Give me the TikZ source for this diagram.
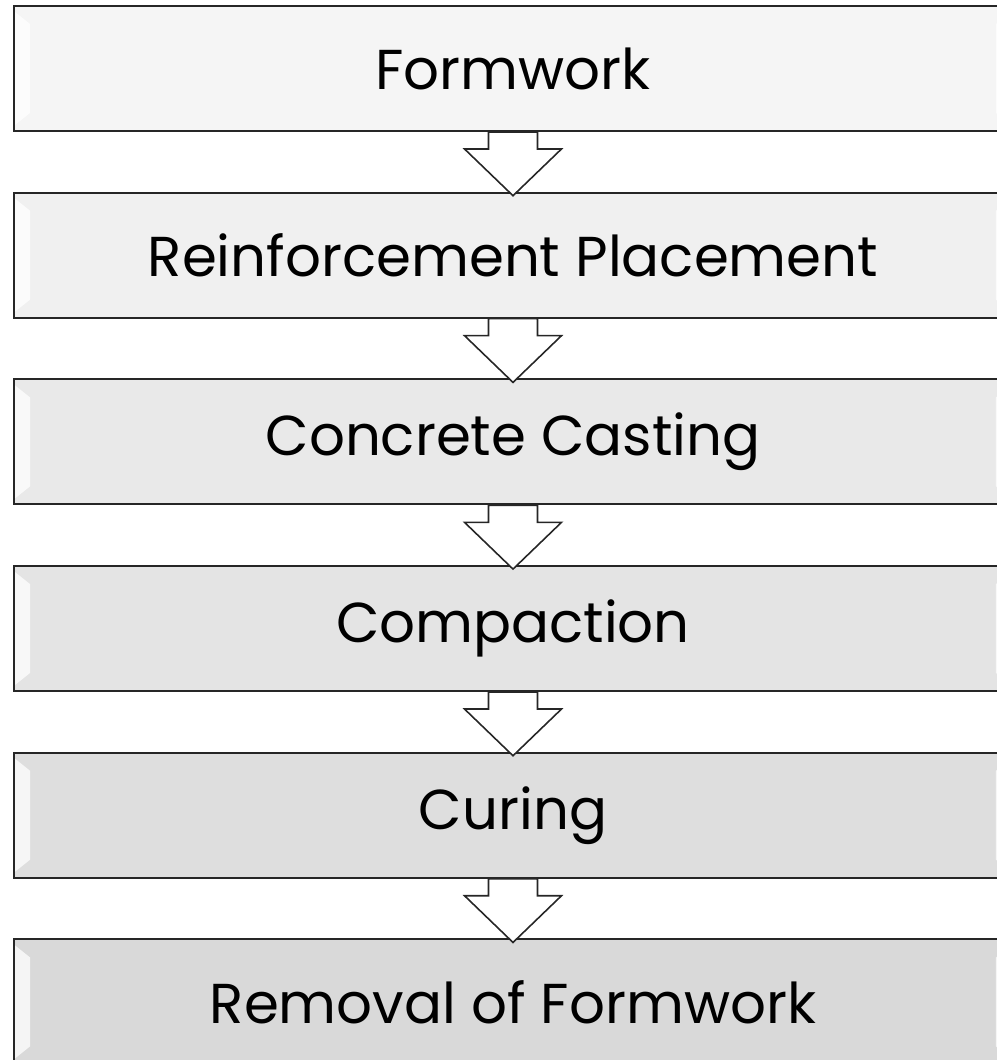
\documentclass[tikz,border=0pt]{standalone}
\usepackage{fontspec}
\setmainfont{Poppins}
\usetikzlibrary{positioning,calc}

\tikzset{
  stagebox/.style={draw=black!85, line width=1.1pt, minimum width=19.96cm, minimum height=2.5cm,
    inner sep=0pt, font=\fontsize{32}{40}\selectfont},
  downarrow/.style={draw=black!85, line width=0.9pt, fill=white, line join=miter},
  bevel/.style={fill=white, opacity=0.75, draw=none}
}

\begin{document}
\begin{tikzpicture}
\useasboundingbox (0,0) rectangle (19.92,-21.2);

% Etapas
\node[stagebox, fill=black!4] (formwork) at (10.26,-1.37) {Formwork};
\node[stagebox, fill=black!6, below=1.195cm of formwork] (reinf) {Reinforcement Placement};
\node[stagebox, fill=black!8.5, below=1.195cm of reinf] (casting) {Concrete Casting};
\node[stagebox, fill=black!10.5, below=1.195cm of casting] (compact) {Compaction};
\node[stagebox, fill=black!13, below=1.195cm of compact] (curing) {Curing};
\node[stagebox, fill=black!15, below=1.195cm of curing] (removal) {Removal of Formwork};

% Brillo en los bordes
\foreach \s in {formwork, reinf, casting, compact, curing, removal} {
  \fill[bevel] ($(\s.north west)+(0.04,-0.14)$) -- ++(0.3,-0.24) -- ($(\s.south west)+(0.34,0.38)$)
    -- ++(-0.3,-0.24) -- cycle;
  \fill[bevel] ($(\s.north east)+(-0.04,-0.14)$) -- ++(-0.3,-0.24) -- ($(\s.south east)+(-0.34,0.38)$)
    -- ++(0.3,-0.24) -- cycle;
}

% Flechas entre etapas
\foreach \a/\b in {formwork/reinf, reinf/casting, casting/compact, compact/curing, curing/removal}
  \draw[downarrow] ($(\a.south)+(-0.49,0)$) -- ++(0,-0.34) -- ++(-0.48,0)
    -- ($(\b.north)+(0,-0.08)$)
    -- ($(\a.south)+(0.97,-0.34)$) -- ++(-0.48,0) -- ++(0,0.34) -- cycle;
\end{tikzpicture}
\end{document}
